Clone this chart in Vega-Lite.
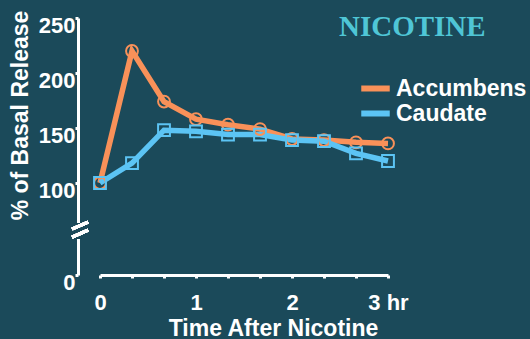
{
  "$schema": "https://vega.github.io/schema/vega-lite/v6.json",
  "autosize": "none",
  "width": 288,
  "height": 257,
  "padding": {"left": 100, "top": 18, "right": 142, "bottom": 64},
  "background": "#1b4a5a",
  "config": {
    "view": {"stroke": null},
    "font": "Liberation Sans"
  },
  "title": {
    "text": "NICOTINE",
    "anchor": "start",
    "frame": "group",
    "dx": 239,
    "dy": 55,
    "offset": 0,
    "baseline": "alphabetic",
    "font": "Liberation Serif",
    "fontSize": 29,
    "fontWeight": "bold",
    "color": "#4fc6d6"
  },
  "data": {
    "values": [
      {"t": 0, "v": 100, "region": "Accumbens"},
      {"t": 0.3333, "v": 220, "region": "Accumbens"},
      {"t": 0.6667, "v": 174, "region": "Accumbens"},
      {"t": 1, "v": 158, "region": "Accumbens"},
      {"t": 1.3333, "v": 153, "region": "Accumbens"},
      {"t": 1.6667, "v": 149, "region": "Accumbens"},
      {"t": 2, "v": 140, "region": "Accumbens"},
      {"t": 2.3333, "v": 139, "region": "Accumbens"},
      {"t": 2.6667, "v": 137, "region": "Accumbens"},
      {"t": 3, "v": 136, "region": "Accumbens"},
      {"t": 0, "v": 100, "region": "Caudate"},
      {"t": 0.3333, "v": 118, "region": "Caudate"},
      {"t": 0.6667, "v": 148, "region": "Caudate"},
      {"t": 1, "v": 147, "region": "Caudate"},
      {"t": 1.3333, "v": 144, "region": "Caudate"},
      {"t": 1.6667, "v": 144, "region": "Caudate"},
      {"t": 2, "v": 139, "region": "Caudate"},
      {"t": 2.3333, "v": 138, "region": "Caudate"},
      {"t": 2.6667, "v": 127, "region": "Caudate"},
      {"t": 3, "v": 120, "region": "Caudate"}
    ]
  },
  "encoding": {
    "x": {
      "field": "t",
      "type": "quantitative",
      "scale": {"domain": [0, 3], "nice": false, "zero": false},
      "axis": {
        "title": "Time After Nicotine",
        "values": [0, 0.3333, 0.6667, 1, 1.3333, 1.6667, 2, 2.3333, 2.6667, 3],
        "labelExpr": "datum.value == 3 ? '3 hr' : (abs(datum.value - round(datum.value)) < 0.01 ? format(datum.value, 'd') : '')",
        "grid": false,
        "domainColor": "white",
        "domainWidth": 3,
        "tickColor": "white",
        "tickWidth": 3,
        "tickSize": 3,
        "labelColor": "white",
        "labelFont": "Liberation Sans",
        "labelFontSize": 22,
        "labelFontWeight": "bold",
        "labelPadding": 14,
        "labelFlush": false,
        "titleColor": "white",
        "titleFont": "Liberation Sans",
        "titleFontSize": 23,
        "titleFontWeight": "bold",
        "titleX": 173,
        "titleY": 60,
        "titleBaseline": "alphabetic"
      }
    },
    "y": {
      "field": "v",
      "type": "quantitative",
      "scale": {"domain": [0, 100, 250], "range": [257, 165, 0], "nice": false, "zero": false},
      "axis": {
        "title": "% of Basal Release",
        "values": [0, 100, 150, 200, 250],
        "offset": 22,
        "grid": false,
        "domainColor": "white",
        "domainWidth": 3,
        "tickColor": "white",
        "tickWidth": 3,
        "tickSize": 3,
        "labelColor": "white",
        "labelFont": "Liberation Sans",
        "labelFontSize": 22,
        "labelFontWeight": "bold",
        "labelPadding": 0,
        "labelBaseline": "top",
        "labelOffset": -3,
        "labelFlush": false,
        "titleColor": "white",
        "titleFont": "Liberation Sans",
        "titleFontSize": 23,
        "titleFontWeight": "bold",
        "titleX": -51,
        "titleY": 97,
        "titleBaseline": "alphabetic"
      }
    }
  },
  "layer": [
    {
      "mark": {"type": "line", "strokeWidth": 5.5},
      "encoding": {
        "color": {
          "field": "region",
          "type": "nominal",
          "scale": {"domain": ["Accumbens", "Caudate"], "range": ["#f99159", "#5cc4f4"]},
          "legend": {
            "title": null,
            "orient": "none",
            "legendX": 263,
            "legendY": 58,
            "symbolType": "M-1.5,0H1.5",
            "symbolStrokeWidth": 6,
            "symbolSize": 361,
            "labelColor": "white",
            "labelFont": "Liberation Sans",
            "labelFontSize": 23,
            "labelFontWeight": "bold",
            "labelOffset": 8,
            "labelBaseline": "middle",
            "rowPadding": -5
          }
        }
      }
    },
    {
      "transform": [{"filter": "datum.region == 'Accumbens'"}],
      "mark": {"type": "point", "shape": "circle", "filled": false, "strokeWidth": 2, "size": 140, "opacity": 1, "color": "#f99159"}
    },
    {
      "transform": [{"filter": "datum.region == 'Caudate'"}],
      "mark": {"type": "point", "shape": "square", "filled": false, "strokeWidth": 2, "size": 140, "opacity": 1, "color": "#5cc4f4"}
    },
    {
      "mark": {"type": "rule", "strokeWidth": 7},
      "encoding": {
        "x": {"datum": -0.229, "type": "quantitative"},
        "y": {"datum": 40, "type": "quantitative"},
        "y2": {"datum": 56},
        "color": {"value": "#1b4a5a"}
      }
    },
    {
      "mark": {"type": "rule", "strokeWidth": 3},
      "encoding": {
        "x": {"datum": -0.29, "type": "quantitative"},
        "x2": {"datum": -0.125},
        "y": {"datum": 50, "type": "quantitative"},
        "y2": {"datum": 57.6},
        "color": {"value": "white"}
      }
    },
    {
      "mark": {"type": "rule", "strokeWidth": 3},
      "encoding": {
        "x": {"datum": -0.29, "type": "quantitative"},
        "x2": {"datum": -0.125},
        "y": {"datum": 41.3, "type": "quantitative"},
        "y2": {"datum": 48.9},
        "color": {"value": "white"}
      }
    }
  ]
}
